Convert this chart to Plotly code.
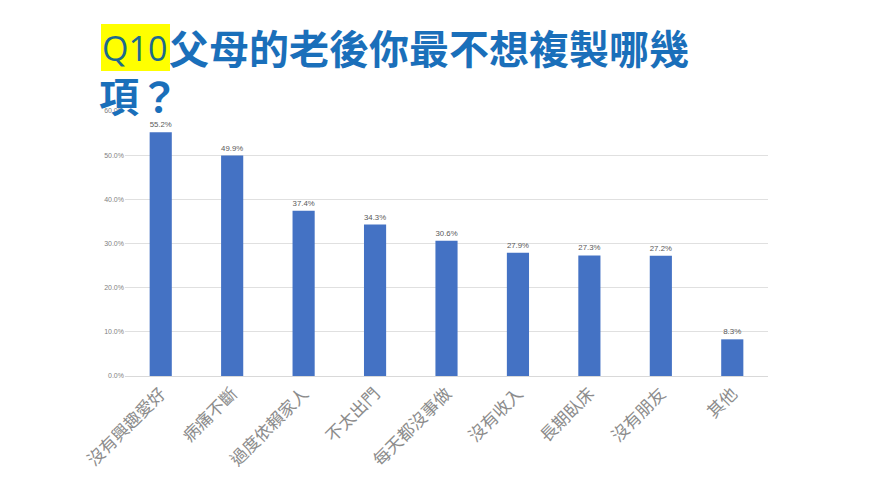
import plotly.graph_objects as go

categories = ["沒有興趣愛好", "病痛不斷", "過度依賴家人", "不太出門", "每天都沒事做",
              "沒有收入", "長期臥床", "沒有朋友", "其他"]
values = [55.2, 49.9, 37.4, 34.3, 30.6, 27.9, 27.3, 27.2, 8.3]
y_ticks = [0, 10, 20, 30, 40, 50, 60]

W, H = 870, 486
OFF = 8  # page body margin


def px(x):
    return (x - OFF) / W


def py(y):
    return 1 - (y - OFF) / H


fig = go.Figure()
fig.add_trace(go.Bar(
    x=categories,
    y=values,
    width=0.31,
    marker=dict(color="#4472C4", line=dict(width=0)),
    text=[f"{v:.1f}%" for v in values],
    textposition="outside",
    textfont=dict(size=8, color="#595959", family="Liberation Sans"),
    cliponaxis=False,
))

title_font = "Noto Sans CJK TC"
annotations = [
    dict(x=px(100), y=py(23), text="Q10", xanchor="left", yanchor="top",
         showarrow=False,
         font=dict(size=34, color="#1d6a8e", family="Open Sans")),
    dict(x=px(167), y=py(16), text="<b>父母的老後你最不想複製哪幾</b>", xanchor="left",
         yanchor="top", showarrow=False,
         font=dict(size=40, color="#1a6fba", family=title_font)),
    dict(x=px(97), y=py(64), text="<b>項？</b>", xanchor="left", yanchor="top",
         showarrow=False, font=dict(size=40, color="#1a6fba", family=title_font)),
]
for a in annotations:
    a["xref"] = "paper"
    a["yref"] = "paper"

# yellow highlight behind "Q10"
fig.add_shape(type="rect", xref="paper", yref="paper",
              x0=px(101), x1=px(170), y0=py(71), y1=py(24),
              fillcolor="#FFFF00", line=dict(width=0), layer="below")

fig.update_layout(
    width=W,
    height=H,
    margin=dict(l=0, r=0, t=0, b=0),
    paper_bgcolor="white",
    plot_bgcolor="white",
    showlegend=False,
    bargap=0.69,
    annotations=annotations,
    xaxis=dict(
        domain=[px(125), px(768)],
        automargin=False,
        tickangle=-45,
        tickfont=dict(size=17, color="#8c8c8c", family="Noto Sans CJK TC"),
        showline=True,
        linecolor="#d9d9d9",
        ticks="",
    ),
    yaxis=dict(
        domain=[py(376), py(111)],
        automargin=False,
        range=[0, 60],
        tickvals=y_ticks,
        ticktext=[f"{t:.1f}%" for t in y_ticks],
        tickfont=dict(size=7, color="#7f7f7f", family="Liberation Sans"),
        gridcolor="#e0e0e0",
        zeroline=False,
    ),
)

fig.write_html("out.html")
